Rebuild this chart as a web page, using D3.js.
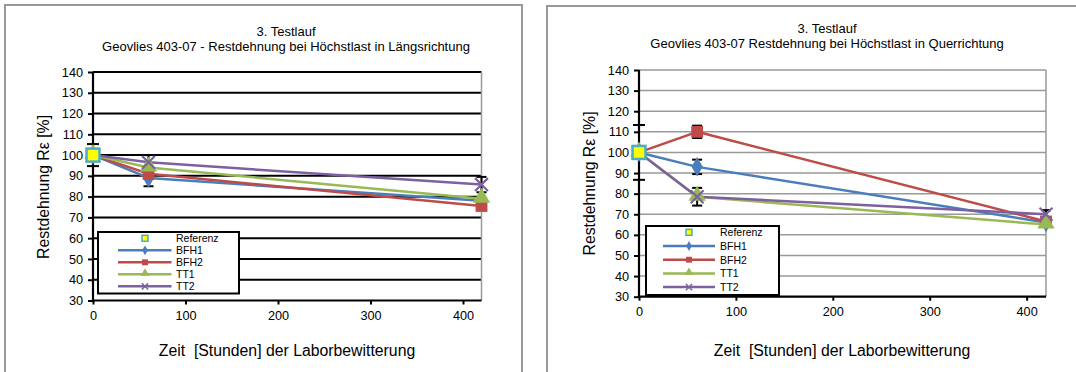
<!DOCTYPE html>
<html>
<head>
<meta charset="utf-8">
<script src="https://cdn.jsdelivr.net/npm/d3@7/dist/d3.min.js"></script>
<style>
  body { margin: 0; background: #fff; }
  svg { display: block; font-family: "Liberation Sans", Arial, sans-serif; }
</style>
</head>
<body>
<div id="chart"></div>
<script>
// ---- data ----
var hours = [0, 60, 420];
var seriesNames = ["BFH1", "BFH2", "TT1", "TT2"];
var yTicks = [30, 40, 50, 60, 70, 80, 90, 100, 110, 120, 130, 140];
var xTicks = [0, 100, 200, 300, 400];
var referenzValue = 100;

// Längsrichtung (left)
var laengsBFH1 = [100, 89, 78];
var laengsBFH2 = [100, 91, 75.5];
var laengsTT1 = [100, 94, 79];
var laengsTT2 = [100, 96.5, 85.8];
// [series, point index, +/-]
var laengsErrors = [["Referenz", 0, 5.3], ["BFH1", 1, 4], ["TT2", 1, 3.5], ["TT2", 2, 3.7]];

// Querrichtung (right)
var querBFH1 = [100, 93, 66];
var querBFH2 = [100, 110, 66.5];
var querTT1 = [100, 78.5, 65];
var querTT2 = [100, 78.5, 70];
var querErrors = [["Referenz", 0, 13.3], ["BFH1", 1, 3.5], ["BFH2", 1, 3], ["TT1", 1, 4.3], ["TT2", 2, 2]];

var title1 = "3. Testlauf";
var laengsTitle = "Geovlies 403-07 - Restdehnung bei Höchstlast in Längsrichtung";
var querTitle = "Geovlies 403-07 Restdehnung bei Höchstlast in Querrichtung";
var xTitle = "Zeit  [Stunden] der Laborbewitterung";
var yTitle = "Restdehnung Rε [%]";

// ---- styling ----
var colors = { BFH1: "#4a7ebb", BFH2: "#be4b48", TT1: "#98b954", TT2: "#7d60a0" };

var svg = d3.select("#chart").append("svg")
    .attr("width", 1076)
    .attr("height", 372);

function marker(g, name, x, y, small) {
    var k = small ? 0.5 : 1;
    if (name == "Referenz") {
        var s = small ? 6 : 13;
        g.append("rect")
            .attr("x", x - s / 2).attr("y", y - s / 2)
            .attr("width", s).attr("height", s)
            .attr("fill", "#ffff00")
            .attr("stroke", "#4bacc6")
            .attr("stroke-width", small ? 1.5 : 2.5);
        return;
    }
    var type = { BFH1: d3.symbolDiamond, BFH2: d3.symbolSquare, TT1: d3.symbolTriangle, TT2: d3.symbolX }[name];
    var size = { BFH1: 110, BFH2: 140, TT1: 130, TT2: 110 }[name] * k * k;
    var p = g.append("path")
        .attr("d", d3.symbol().type(type).size(size))
        .attr("transform", "translate(" + x + "," + (name == "TT1" ? y - 1 : y) + ")");
    if (name == "TT2") {
        p.attr("fill", "none").attr("stroke", colors.TT2).attr("stroke-width", small ? 1.5 : 2.2);
    } else {
        p.attr("fill", colors[name]);
    }
}

function drawChart(cfg) {
    var g = svg.append("g");

    // panel frame
    g.append("rect")
        .attr("x", cfg.panel[0]).attr("y", cfg.panel[1])
        .attr("width", cfg.panel[2]).attr("height", 500)
        .attr("fill", "#fff")
        .attr("stroke", "#999")
        .attr("stroke-width", 2);

    var x = d3.scaleLinear().domain([0, 420]).range([cfg.plot[0], cfg.plot[1]]);
    var y = d3.scaleLinear().domain([30, 140]).range([cfg.plot[3], cfg.plot[2]]);

    // grid
    g.append("g").selectAll("line")
        .data(yTicks.slice(1))
        .enter().append("line")
        .attr("x1", cfg.plot[0]).attr("x2", cfg.plot[1])
        .attr("y1", function (d) { return y(d); })
        .attr("y2", function (d) { return y(d); })
        .attr("stroke", cfg.gridColor)
        .attr("stroke-width", cfg.gridWidth);

    // right edge
    g.append("line")
        .attr("x1", cfg.plot[1]).attr("x2", cfg.plot[1])
        .attr("y1", cfg.plot[2]).attr("y2", cfg.plot[3])
        .attr("stroke", "#999").attr("stroke-width", 1.5);

    // axes
    var yAxis = g.append("g")
        .attr("transform", "translate(" + cfg.plot[0] + ",0)")
        .call(d3.axisLeft(y).tickValues(yTicks).tickSize(5).tickPadding(5));
    var xAxis = g.append("g")
        .attr("transform", "translate(0," + cfg.plot[3] + ")")
        .call(d3.axisBottom(x).tickValues(xTicks).tickSize(4).tickPadding(6));
    [yAxis, xAxis].forEach(function (a) {
        a.select(".domain").attr("stroke", "#000").attr("stroke-width", 2.2);
        a.selectAll(".tick line").attr("stroke", "#000").attr("stroke-width", 2);
        a.selectAll("text").attr("font-size", "12.7px").attr("fill", "#000")
            .attr("font-family", "Liberation Sans, Arial, sans-serif");
    });
    xAxis.select(".domain").attr("d", "M" + cfg.plot[0] + ",0H" + cfg.plot[1]);
    yAxis.select(".domain").attr("d", "M0," + cfg.plot[3] + "V" + cfg.plot[2]);

    // titles
    g.append("text")
        .attr("x", cfg.titleX).attr("y", cfg.titleY)
        .attr("text-anchor", "middle").attr("font-size", "13px")
        .text(title1);
    g.append("text")
        .attr("x", cfg.titleX).attr("y", cfg.titleY + 15)
        .attr("text-anchor", "middle").attr("font-size", "13px")
        .text(cfg.title);
    g.append("text")
        .attr("x", cfg.xTitle[0]).attr("y", cfg.xTitle[1])
        .attr("text-anchor", "middle").attr("font-size", "15.8px")
        .style("white-space", "pre")
        .attr("xml:space", "preserve")
        .text(xTitle);
    g.append("text")
        .attr("transform", "translate(" + cfg.yTitle[0] + "," + cfg.yTitle[1] + ") rotate(-90)")
        .attr("text-anchor", "middle").attr("dy", "0.35em").attr("font-size", "15.8px")
        .text(yTitle);

    var line = d3.line()
        .x(function (d, i) { return x(hours[i]); })
        .y(function (d) { return y(d); });

    // lines
    seriesNames.forEach(function (name) {
        g.append("path")
            .datum(cfg.values[name])
            .attr("d", line)
            .attr("fill", "none")
            .attr("stroke", colors[name])
            .attr("stroke-width", 2.5)
            .attr("stroke-linejoin", "round");
    });

    // error bars
    var eb = g.append("g").attr("stroke", "#000").attr("stroke-width", 2);
    cfg.errors.forEach(function (e) {
        var v = e[0] == "Referenz" ? referenzValue : cfg.values[e[0]][e[1]];
        var cx = x(hours[e[1]]);
        var w = e[1] == 0 ? 6 : 5;
        eb.append("line").attr("x1", cx).attr("x2", cx)
            .attr("y1", y(v - e[2])).attr("y2", y(v + e[2]));
        [v - e[2], v + e[2]].forEach(function (t) {
            eb.append("line").attr("x1", cx - w).attr("x2", cx + w)
                .attr("y1", y(t)).attr("y2", y(t));
        });
    });

    // markers
    seriesNames.forEach(function (name) {
        cfg.values[name].forEach(function (v, i) {
            marker(g, name, x(hours[i]), y(v), false);
        });
    });
    marker(g, "Referenz", x(0), y(referenzValue), false);

    // legend
    var L = cfg.legend;
    g.append("rect")
        .attr("x", L.box[0]).attr("y", L.box[1])
        .attr("width", L.box[2] - L.box[0]).attr("height", L.box[3] - L.box[1])
        .attr("fill", "#fff").attr("stroke", "#000").attr("stroke-width", 2);
    ["Referenz"].concat(seriesNames).forEach(function (name, i) {
        var ry = L.rowY + i * L.step;
        if (name != "Referenz") {
            g.append("line")
                .attr("x1", L.lineX[0]).attr("x2", L.lineX[1])
                .attr("y1", ry).attr("y2", ry)
                .attr("stroke", colors[name]).attr("stroke-width", 2.5);
        }
        marker(g, name, L.markX, ry, true);
        g.append("text")
            .attr("x", L.textX).attr("y", ry + 3.8)
            .attr("font-size", "10.5px").attr("fill", "#000")
            .text(name);
    });
}

drawChart({
    panel: [5, 5, 517],
    plot: [93, 481.5, 72, 300.5],
    gridColor: "#000", gridWidth: 2,
    titleX: 286, titleY: 36, title: laengsTitle,
    xTitle: [287, 355.5], yTitle: [43, 187],
    values: { BFH1: laengsBFH1, BFH2: laengsBFH2, TT1: laengsTT1, TT2: laengsTT2 },
    errors: laengsErrors,
    legend: { box: [98, 232, 239, 293.5], rowY: 238.3, step: 12, lineX: [118, 171.5], markX: 145, textX: 176 }
});

drawChart({
    panel: [547, 6, 700],
    plot: [639, 1046, 70, 296.7],
    gridColor: "#999", gridWidth: 1.5,
    titleX: 827, titleY: 32.5, title: querTitle,
    xTitle: [842, 356], yTitle: [589, 183.5],
    values: { BFH1: querBFH1, BFH2: querBFH2, TT1: querTT1, TT2: querTT2 },
    errors: querErrors,
    legend: { box: [646, 226, 779, 295], rowY: 232.3, step: 13.7, lineX: [663, 715], markX: 689, textX: 720 }
});
</script>
</body>
</html>
